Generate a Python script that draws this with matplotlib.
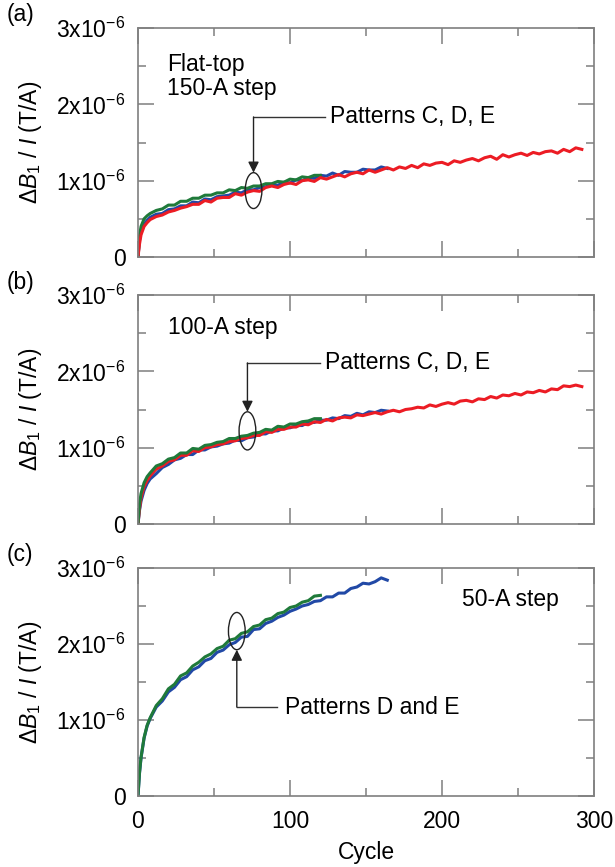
import matplotlib
matplotlib.use("Agg")
import matplotlib.pyplot as plt
from matplotlib.patches import Ellipse

plt.rcParams['font.family'] = 'Liberation Sans'
plt.rcParams['mathtext.fontset'] = 'custom'
plt.rcParams['mathtext.rm'] = 'Liberation Sans'
plt.rcParams['mathtext.it'] = 'Liberation Sans:italic'
plt.rcParams['mathtext.bf'] = 'Liberation Sans:bold'

# --- data (dB1/I in units of 1e-6 T/A) ---
start_cyc = [0, 1, 2, 4, 6]
cyc_red = start_cyc + list(range(8, 293, 4))
cyc_blue = start_cyc + list(range(8, 165, 4))
cyc_green = start_cyc + list(range(8, 121, 4))

# (a) flat-top 150-A step
a_red = [0.00, 0.17, 0.29, 0.40, 0.45,
         0.49, 0.53, 0.55, 0.59, 0.61, 0.64, 0.66, 0.69, 0.69, 0.74,
         0.72, 0.77, 0.78, 0.78, 0.83, 0.81, 0.85, 0.87, 0.86, 0.91,
         0.93, 0.91, 0.95, 0.97, 0.95, 1.00, 1.01, 0.99, 1.04, 1.02,
         1.05, 1.08, 1.05, 1.09, 1.11, 1.09, 1.14, 1.11, 1.14, 1.17,
         1.14, 1.18, 1.16, 1.20, 1.17, 1.22, 1.20, 1.23, 1.24, 1.21,
         1.26, 1.24, 1.27, 1.29, 1.26, 1.30, 1.32, 1.28, 1.34, 1.31,
         1.34, 1.36, 1.33, 1.37, 1.35, 1.38, 1.39, 1.36, 1.41, 1.38,
         1.43, 1.41]
a_blue = [0.00, 0.22, 0.33, 0.43, 0.48,
          0.52, 0.56, 0.57, 0.62, 0.63, 0.67, 0.67, 0.72, 0.71, 0.76,
          0.75, 0.79, 0.80, 0.81, 0.85, 0.84, 0.88, 0.88, 0.91, 0.92,
          0.95, 0.94, 0.98, 0.97, 1.01, 1.00, 1.04, 1.03, 1.07, 1.06,
          1.10, 1.07, 1.12, 1.11, 1.11, 1.15, 1.14, 1.14, 1.18, 1.16]
a_green = [0.00, 0.28, 0.40, 0.50, 0.54,
           0.57, 0.61, 0.63, 0.68, 0.68, 0.73, 0.73, 0.77, 0.77, 0.81,
           0.81, 0.84, 0.84, 0.88, 0.87, 0.91, 0.90, 0.93, 0.93, 0.96,
           0.96, 0.99, 0.98, 1.02, 1.01, 1.05, 1.04, 1.07, 1.07]

# (b) 100-A step
b_red = [0.00, 0.20, 0.34, 0.49, 0.57,
         0.63, 0.72, 0.76, 0.82, 0.84, 0.90, 0.90, 0.96, 0.95, 1.00,
         1.01, 1.04, 1.05, 1.08, 1.09, 1.12, 1.13, 1.16, 1.16, 1.21,
         1.20, 1.24, 1.24, 1.27, 1.27, 1.31, 1.30, 1.34, 1.33, 1.37,
         1.35, 1.39, 1.40, 1.39, 1.43, 1.42, 1.44, 1.46, 1.44, 1.47,
         1.49, 1.47, 1.50, 1.51, 1.53, 1.52, 1.56, 1.54, 1.57, 1.59,
         1.57, 1.61, 1.62, 1.60, 1.64, 1.63, 1.67, 1.65, 1.69, 1.68,
         1.71, 1.69, 1.73, 1.72, 1.75, 1.73, 1.77, 1.76, 1.81, 1.80,
         1.82, 1.80]
b_blue = [0.00, 0.18, 0.30, 0.44, 0.53,
          0.59, 0.66, 0.74, 0.78, 0.84, 0.86, 0.91, 0.91, 0.97, 0.97,
          1.01, 1.02, 1.05, 1.06, 1.10, 1.09, 1.13, 1.14, 1.18, 1.18,
          1.22, 1.22, 1.26, 1.26, 1.29, 1.29, 1.33, 1.33, 1.36, 1.36,
          1.39, 1.38, 1.42, 1.41, 1.45, 1.43, 1.47, 1.46, 1.49, 1.48]
b_green = [0.00, 0.26, 0.40, 0.54, 0.62,
           0.67, 0.76, 0.79, 0.85, 0.87, 0.93, 0.93, 0.99, 0.98, 1.03,
           1.04, 1.07, 1.08, 1.12, 1.12, 1.15, 1.16, 1.19, 1.20, 1.24,
           1.23, 1.28, 1.27, 1.31, 1.31, 1.34, 1.35, 1.38, 1.38]

# (c) 50-A step
c_blue = [0.00, 0.30, 0.50, 0.76, 0.92,
          1.02, 1.17, 1.25, 1.37, 1.43, 1.53, 1.57, 1.66, 1.70, 1.78,
          1.81, 1.89, 1.92, 1.99, 2.02, 2.09, 2.10, 2.19, 2.20, 2.27,
          2.30, 2.35, 2.38, 2.43, 2.46, 2.50, 2.52, 2.56, 2.57, 2.62,
          2.62, 2.67, 2.67, 2.73, 2.75, 2.80, 2.79, 2.82, 2.87, 2.84]
c_green = [0.00, 0.31, 0.51, 0.77, 0.93,
           1.03, 1.19, 1.28, 1.41, 1.47, 1.58, 1.62, 1.71, 1.76, 1.83,
           1.87, 1.94, 1.97, 2.05, 2.07, 2.14, 2.16, 2.23, 2.25, 2.32,
           2.34, 2.40, 2.42, 2.48, 2.50, 2.55, 2.57, 2.63, 2.64]

panel_tags = ["(a)", "(b)", "(c)"]
y_ticks = [0, 1, 2, 3]
y_ticklabels = ["0", "1x10$^{-6}$", "2x10$^{-6}$", "3x10$^{-6}$"]
x_ticks = [0, 100, 200, 300]

RED = "#EC1C24"
BLUE = "#2149A6"
GREEN = "#1F7A3A"
GRAY = "#7F7F7F"
FS = 16.5
LW = 2.2

W, H = 615, 867
fig = plt.figure(figsize=(W / 100, H / 100), dpi=100)

# axes boxes in pixels (top, bottom)
boxes = [(28, 257), (295, 524), (568, 796)]
left_px, right_px = 138, 594
axes = []
for top, bot in boxes:
    ax = fig.add_axes([left_px / W, 1 - bot / H, (right_px - left_px) / W, (bot - top) / H])
    axes.append(ax)

for i, ax in enumerate(axes):
    ax.set_xlim(0, 300)
    ax.set_ylim(0, 3)
    ax.set_xticks(x_ticks)
    ax.set_xticks([50, 150, 250], minor=True)
    ax.set_yticks(y_ticks)
    ax.set_yticklabels(y_ticklabels)
    ax.set_yticks([0.5, 1.5, 2.5], minor=True)
    ax.tick_params(which='both', direction='in', top=True, right=True,
                   color=GRAY, width=1.1, labelsize=FS)
    ax.tick_params(which='major', length=11.5)
    ax.tick_params(which='minor', length=6)
    ax.tick_params(axis='y', pad=9)
    ax.tick_params(axis='x', pad=10)
    for sp in ax.spines.values():
        sp.set_color(GRAY)
        sp.set_linewidth(1.2)
    if i < 2:
        ax.tick_params(axis='x', labelbottom=False)

    # y label and panel tag
    yc = 1 - (boxes[i][0] + boxes[i][1]) / 2 / H
    fig.text(31 / W, yc, r"$\mathit{ΔB}_{1}$ / $\mathit{I}$ (T/A)",
             rotation=90, ha='center', va='center', fontsize=FS)
    fig.text(7 / W, 1 - (boxes[i][0] - 13) / H, panel_tags[i],
             ha='left', va='center', fontsize=FS)

# (a)
ax = axes[0]
ax.plot(cyc_blue, a_blue, color=BLUE, lw=LW)
ax.plot(cyc_green, a_green, color=GREEN, lw=LW)
ax.plot(cyc_red, a_red, color=RED, lw=LW)
ax.text(19, 2.36, "Flat-top\n150-A step", ha='left', va='center',
        fontsize=FS, linespacing=1.05)
ax.add_patch(Ellipse((76, 0.87), 11, 0.47, fill=False, ec='#222222', lw=1, zorder=5))
ax.plot([76, 123], [1.835, 1.835], color='#333333', lw=1)
ax.annotate("", xy=(76, 1.105), xytext=(76, 1.835),
            arrowprops=dict(arrowstyle='-|>', color='#222222', lw=1,
                            mutation_scale=16, shrinkA=0, shrinkB=0))
ax.text(126, 1.835, "Patterns C, D, E", ha='left', va='center', fontsize=FS)

# (b)
ax = axes[1]
ax.plot(cyc_blue, b_blue, color=BLUE, lw=LW)
ax.plot(cyc_red, b_red, color=RED, lw=LW)
ax.plot(cyc_green, b_green, color=GREEN, lw=LW)
ax.text(19.5, 2.57, "100-A step", ha='left', va='center', fontsize=FS)
ax.add_patch(Ellipse((72, 1.22), 11, 0.5, fill=False, ec='#222222', lw=1, zorder=5))
ax.plot([72, 120], [2.11, 2.11], color='#333333', lw=1)
ax.annotate("", xy=(72, 1.47), xytext=(72, 2.11),
            arrowprops=dict(arrowstyle='-|>', color='#222222', lw=1,
                            mutation_scale=16, shrinkA=0, shrinkB=0))
ax.text(123, 2.11, "Patterns C, D, E", ha='left', va='center', fontsize=FS)

# (c)
ax = axes[2]
ax.plot(cyc_blue, c_blue, color=BLUE, lw=LW)
ax.plot(cyc_green, c_green, color=GREEN, lw=LW)
ax.text(213, 2.59, "50-A step", ha='left', va='center', fontsize=FS)
ax.add_patch(Ellipse((65, 2.17), 11, 0.49, fill=False, ec='#222222', lw=1, zorder=5))
ax.plot([65, 91.5], [1.17, 1.17], color='#333333', lw=1)
ax.annotate("", xy=(65, 1.925), xytext=(65, 1.17),
            arrowprops=dict(arrowstyle='-|>', color='#222222', lw=1,
                            mutation_scale=16, shrinkA=0, shrinkB=0))
ax.text(96.5, 1.17, "Patterns D and E", ha='left', va='center', fontsize=FS)
ax.set_xlabel("Cycle", fontsize=FS, labelpad=6)

fig.savefig("out.png", dpi=100)
